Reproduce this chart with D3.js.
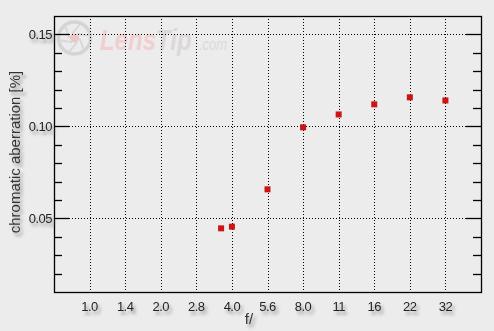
<!DOCTYPE html>
<html><head><meta charset="utf-8">
<script src="https://cdn.jsdelivr.net/npm/d3@7"></script>
<style>
html,body{margin:0;padding:0;background:#ececec;}
svg{display:block;}
text{font-family:"Liberation Sans",Arial,sans-serif;}
</style></head>
<body>
<svg id="chart" width="494" height="331"></svg>
<script>
// ---- data ----
const tickLabels = ["1.0","1.4","2.0","2.8","4.0","5.6","8.0","11","16","22","32"];
const apertures = [3.6, 4.0, 5.6, 8.0, 11, 16, 22, 32];
const aberration = [0.0446, 0.0455, 0.0658, 0.0995, 0.1065, 0.1120, 0.1158, 0.1141];
const yMajorTicks = [0.05, 0.10, 0.15];
const yMinorTicks = [0.02,0.03,0.04,0.06,0.07,0.08,0.09,0.11,0.12,0.13,0.14];
const yTitle = "chromatic aberration [%]";
const xTitle = "f/";

const svg = d3.select("#chart");
const W = 494, H = 331;
const m = {left:54, top:16, right:481, bottom:292};

const defs = svg.append("defs");
const f = defs.append("filter").attr("id","sh").attr("x","-30%").attr("y","-50%").attr("width","160%").attr("height","200%");
f.append("feDropShadow").attr("dx",2.5).attr("dy",3.5).attr("stdDeviation",1.6)
  .attr("flood-color","#777").attr("flood-opacity",0.75);
const lg = defs.append("linearGradient").attr("id","logoGrad")
  .attr("gradientUnits","userSpaceOnUse").attr("x1",0).attr("x2",92).attr("y1",0).attr("y2",0);
lg.append("stop").attr("offset","0.61").attr("stop-color","#efcfcf");
lg.append("stop").attr("offset","0.61").attr("stop-color","#dcd8d8");
lg.append("stop").attr("offset","1").attr("stop-color","#dcd8d8");

svg.append("rect").attr("width",W).attr("height",H).attr("fill","#ececec");

const x = d3.scaleLinear().domain([-1, 11]).range([m.left, m.right]);
const y = d3.scaleLinear().domain([0.01, 0.16]).range([m.bottom, m.top]);

function stopIndex(fn){
  const i = tickLabels.findIndex(t => Math.abs(parseFloat(t) - fn) < 1e-9);
  return i >= 0 ? i : 2*Math.log2(fn);
}

// watermark logo
const logo = svg.append("g");
logo.append("circle").attr("cx",74.5).attr("cy",38).attr("r",16)
  .attr("fill","none").attr("stroke","#d4d4d4").attr("stroke-width",3.5);
d3.range(6).map(i => i*60).forEach(a => {
  const r = a*Math.PI/180;
  logo.append("line")
    .attr("x1",74.5+5*Math.cos(r)).attr("y1",38+5*Math.sin(r))
    .attr("x2",74.5+15*Math.cos(r+0.9)).attr("y2",38+15*Math.sin(r+0.9))
    .attr("stroke","#d8d8d8").attr("stroke-width",2);
});
logo.append("circle").attr("cx",74.5).attr("cy",38).attr("r",4.5).attr("fill","#ecc6c6");
logo.append("text").attr("transform","translate(100,50) scale(1,1.22)")
  .attr("font-size",24).attr("font-weight","bold").attr("font-style","italic")
  .attr("fill","url(#logoGrad)").text("LensTip");
logo.append("text").attr("transform","translate(199,50) scale(1,1.3)").attr("font-size",13)
  .attr("font-style","italic").attr("fill","#dadada").text(".com");

// grid
const grid = svg.append("g").attr("stroke","#000").attr("stroke-width",1)
  .attr("stroke-dasharray","1,2");
grid.selectAll("line.v").data(tickLabels).join("line")
  .attr("x1",(d,i)=>Math.round(x(i))+0.5).attr("x2",(d,i)=>Math.round(x(i))+0.5)
  .attr("y1",m.top+3).attr("y2",m.bottom);
grid.selectAll("line.h").data(yMajorTicks).join("line")
  .attr("x1",m.left+15).attr("x2",m.right-15)
  .attr("y1",d=>Math.round(y(d))+0.5).attr("y2",d=>Math.round(y(d))+0.5);

// frame
svg.append("rect").attr("x",m.left+0.5).attr("y",m.top+0.5)
  .attr("width",m.right-m.left).attr("height",m.bottom-m.top)
  .attr("fill","none").attr("stroke","#000").attr("stroke-width",1.3);

// ticks
const tk = svg.append("g").attr("stroke","#000").attr("stroke-width",1.3);
yMajorTicks.forEach(v=>{
  const yy = Math.round(y(v))+0.5;
  tk.append("line").attr("x1",m.left).attr("x2",m.left+15).attr("y1",yy).attr("y2",yy);
  tk.append("line").attr("x1",m.right-15).attr("x2",m.right+0.5).attr("y1",yy).attr("y2",yy);
});
yMinorTicks.forEach(v=>{
  const yy = Math.round(y(v))+0.5;
  tk.append("line").attr("x1",m.left).attr("x2",m.left+8).attr("y1",yy).attr("y2",yy);
  tk.append("line").attr("x1",m.right-8).attr("x2",m.right+0.5).attr("y1",yy).attr("y2",yy);
});

// tick labels
const lab = svg.append("g").attr("filter","url(#sh)").attr("fill","#222")
  .attr("font-size",13).attr("letter-spacing","-0.5");
lab.selectAll("text.y").data(yMajorTicks).join("text")
  .attr("x",m.left-2).attr("y",d=>y(d)+4.7).attr("text-anchor","end")
  .text(d=>d.toFixed(2));
lab.selectAll("text.x").data(tickLabels).join("text")
  .attr("x",(d,i)=>x(i)).attr("y",310.5).attr("text-anchor","middle")
  .text(d=>d);

// axis titles
const tt = svg.append("g").attr("filter","url(#sh)").attr("fill","#333").attr("font-size",15);
tt.append("text").attr("transform","translate(20,152) rotate(-90)")
  .attr("text-anchor","middle").text(yTitle);
tt.append("text").attr("x",249).attr("y",324).attr("text-anchor","middle").text(xTitle);

// points
svg.append("g").selectAll("rect").data(apertures).join("rect")
  .attr("x",(d,i)=>x(stopIndex(d))-3).attr("y",(d,i)=>y(aberration[i])-3)
  .attr("width",6).attr("height",6).attr("fill","#cc1414");
</script>
</body></html>
